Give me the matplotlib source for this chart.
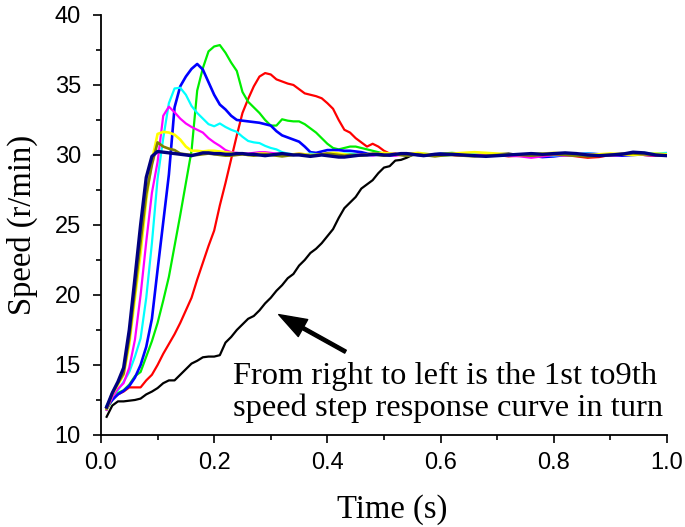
import numpy as np
import matplotlib
matplotlib.use("Agg")
import matplotlib.pyplot as plt
from matplotlib.ticker import MultipleLocator

# time grid: 0.01 s steps up to 0.6 s, then 0.02 s steps
time = np.round(np.concatenate([np.arange(0.01, 0.605, 0.01), np.arange(0.62, 1.005, 0.02)]), 2)

# speed curves, 1st (slowest) to 9th (fastest)
speed_1 = [11.3, 12.1, 12.4, 12.4, 12.45, 12.5, 12.6, 12.9, 13.1, 13.35,
           13.7, 13.9, 13.9, 14.3, 14.7, 15.1, 15.3, 15.55, 15.6, 15.6,
           15.7, 16.6, 17.0, 17.5, 17.9, 18.3, 18.5, 18.9, 19.4, 19.8,
           20.3, 20.7, 21.2, 21.5, 22.1, 22.5, 23.0, 23.3, 23.7, 24.2,
           24.7, 25.5, 26.2, 26.6, 27.0, 27.6, 27.9, 28.2, 28.7, 29.1,
           29.2, 29.6, 29.65, 29.8, 30.0, 30.0, 30.05, 30.0, 29.95, 30.0,
           30.05, 30.0, 29.95, 30.0, 30.05, 30.1, 30.0, 29.9, 29.95, 30.0,
           30.05, 30.0, 29.95, 30.0, 30.05, 30.1, 30.05, 30.0, 29.95, 30.0]
speed_2 = [11.9, 12.6, 12.9, 13.1, 13.4, 13.4, 13.4, 13.9, 14.3, 15.0,
           15.8, 16.5, 17.2, 18.0, 18.9, 19.8, 21.1, 22.3, 23.5, 24.6,
           26.4, 28.0, 29.7, 31.4, 33.0, 34.0, 34.9, 35.6, 35.85, 35.75,
           35.4, 35.25, 35.1, 35.0, 34.7, 34.4, 34.3, 34.2, 34.05, 33.7,
           33.3, 32.5, 31.8, 31.6, 31.2, 30.9, 30.6, 30.8, 30.6, 30.3,
           30.1, 30.1, 30.0, 29.95, 30.0, 30.05, 30.0, 29.95, 30.0, 30.05,
           30.0, 29.95, 30.0, 30.05, 30.0, 29.9, 29.95, 30.0, 30.05, 30.0,
           30.0, 29.9, 29.8, 29.85, 30.0, 30.05, 30.1, 30.0, 29.95, 30.0]
speed_3 = [11.8, 12.5, 13.0, 13.2, 13.6, 14.2, 14.5, 15.6, 16.7, 18.0,
           19.6, 21.3, 23.5, 25.7, 28.0, 30.3, 34.6, 36.2, 37.4, 37.75,
           37.85, 37.3, 36.6, 36.0, 34.5, 33.8, 33.4, 33.0, 32.5, 32.1,
           32.1, 32.55, 32.45, 32.4, 32.4, 32.2, 31.9, 31.6, 31.2, 30.8,
           30.5, 30.4, 30.5, 30.6, 30.6, 30.5, 30.4, 30.3, 30.2, 30.1,
           30.05, 30.0, 30.05, 30.1, 30.1, 30.05, 30.0, 30.0, 30.05, 30.1,
           30.15, 30.1, 30.05, 30.0, 30.0, 29.95, 30.0, 30.05, 30.1, 30.05,
           30.0, 29.95, 30.0, 30.05, 30.0, 30.0, 30.05, 30.1, 30.05, 30.0]
speed_4 = [12.0, 12.5, 12.9, 13.15, 13.5, 14.1, 15.0, 16.3, 18.3, 21.8,
           25.2, 28.6, 33.4, 34.9, 35.6, 36.15, 36.5, 36.1, 35.2, 34.3,
           33.6, 33.25, 32.8, 32.5, 32.45, 32.4, 32.35, 32.3, 32.2, 32.1,
           31.7, 31.4, 31.25, 31.1, 30.95, 30.6, 30.2, 30.15, 30.25, 30.35,
           30.35, 30.35, 30.3, 30.3, 30.25, 30.2, 30.1, 30.05, 30.0, 30.0,
           29.95, 30.0, 30.05, 30.1, 30.05, 30.0, 29.95, 30.0, 30.05, 30.1,
           30.05, 30.0, 30.0, 29.95, 30.0, 30.05, 30.0, 29.95, 29.85, 29.9,
           30.0, 30.05, 30.1, 30.05, 30.0, 29.95, 30.0, 30.05, 30.05, 30.0]
speed_5 = [12.1, 12.8, 13.2, 13.8, 14.5, 15.6, 16.9, 19.8, 23.7, 28.3,
           31.2, 33.7, 34.75, 34.8, 34.3, 33.5, 33.0, 32.6, 32.2, 32.05,
           32.25, 32.0, 31.8, 31.65, 31.3, 31.0, 30.9, 30.85, 30.65, 30.5,
           30.4, 30.2, 30.1, 30.05, 30.0, 30.05, 30.1, 30.05, 30.0, 29.95,
           30.0, 30.05, 30.1, 30.1, 30.05, 30.0, 30.0, 29.95, 30.0, 30.05,
           30.1, 30.05, 30.0, 29.95, 30.0, 30.05, 30.1, 30.05, 30.0, 29.95,
           30.0, 30.05, 30.1, 30.05, 30.0, 29.95, 30.0, 30.05, 30.0, 29.95,
           30.0, 30.05, 30.1, 30.05, 30.0, 30.05, 30.1, 30.15, 30.1, 30.15]
speed_6 = [11.8, 12.7, 13.3, 13.7, 14.8, 16.8, 20.0, 23.8, 27.3, 29.5,
           32.8, 33.45, 33.05, 32.6, 32.25, 32.0, 31.8, 31.6, 31.2, 30.9,
           30.65, 30.35, 30.2, 30.15, 30.1, 30.1, 30.15, 30.2, 30.2, 30.15,
           30.1, 30.05, 30.0, 30.05, 30.1, 30.05, 30.0, 30.0, 30.05, 30.1,
           30.1, 30.05, 30.0, 29.95, 30.0, 30.05, 30.0, 29.95, 30.0, 30.05,
           30.0, 29.95, 30.0, 30.05, 30.1, 30.05, 30.0, 29.95, 30.0, 30.05,
           30.0, 29.95, 30.0, 30.05, 30.0, 29.95, 29.9, 29.8, 29.9, 30.0,
           29.95, 30.0, 30.05, 30.0, 29.95, 30.0, 30.05, 30.0, 29.95, 30.0]
speed_7 = [11.9, 12.9, 13.6, 14.3, 16.5, 19.8, 23.0, 26.8, 29.6, 31.5,
           31.65, 31.6, 31.45, 31.1, 30.6, 30.3, 30.3, 30.25, 30.3, 30.3,
           30.25, 30.2, 30.15, 30.1, 30.05, 30.0, 30.05, 30.1, 30.1, 30.05,
           30.0, 29.95, 30.0, 30.05, 30.1, 30.05, 30.0, 30.0, 30.05, 30.1,
           30.15, 30.1, 30.05, 30.0, 29.95, 30.0, 30.05, 30.1, 30.1, 30.15,
           30.1, 30.05, 30.0, 30.05, 30.1, 30.15, 30.1, 30.05, 30.0, 30.05,
           30.1, 30.15, 30.2, 30.15, 30.1, 30.05, 30.0, 30.05, 30.1, 30.15,
           30.1, 30.05, 30.0, 30.05, 30.1, 30.05, 30.0, 30.05, 30.1, 30.05]
speed_8 = [11.9, 13.0, 13.7, 14.4, 16.9, 20.3, 23.8, 27.2, 29.3, 30.9,
           30.6, 30.45, 30.35, 30.1, 30.05, 30.0, 30.0, 30.05, 30.1, 30.05,
           30.0, 29.95, 29.95, 30.0, 30.05, 30.0, 29.95, 30.0, 30.05, 30.0,
           29.95, 29.9, 29.95, 30.0, 30.05, 30.0, 29.95, 30.0, 30.05, 30.1,
           30.05, 30.0, 29.95, 30.0, 30.0, 29.95, 30.0, 30.05, 30.0, 29.95,
           30.0, 30.05, 30.0, 29.95, 30.0, 30.05, 30.0, 29.95, 29.9, 29.95,
           30.0, 29.95, 29.9, 29.95, 30.0, 30.05, 30.0, 29.95, 30.0, 30.05,
           30.0, 29.95, 29.9, 29.95, 30.0, 30.05, 30.1, 30.05, 30.0, 29.95]
speed_9 = [12.0, 13.0, 13.8, 14.8, 17.5, 21.2, 25.0, 28.4, 29.9, 30.25,
           30.2, 30.15, 30.1, 30.05, 30.0, 29.95, 30.05, 30.15, 30.15, 30.1,
           30.1, 30.05, 30.05, 30.1, 30.1, 30.05, 30.05, 30.0, 29.95, 30.0,
           30.05, 30.1, 30.05, 30.0, 30.0, 29.95, 29.9, 29.95, 30.0, 29.95,
           29.9, 29.85, 29.85, 29.9, 29.95, 30.0, 30.0, 30.05, 30.05, 30.0,
           30.0, 30.05, 30.1, 30.1, 30.05, 30.0, 29.95, 30.0, 30.05, 30.05,
           30.05, 30.0, 29.95, 29.9, 29.95, 30.0, 30.05, 30.1, 30.05, 30.1,
           30.15, 30.1, 30.0, 29.95, 30.0, 30.05, 30.2, 30.15, 30.0, 29.95]

curves = [speed_1, speed_2, speed_3, speed_4, speed_5, speed_6, speed_7, speed_8, speed_9]
colors = ["black", "#ff0000", "#00ee00", "#0000ff", "#00ffff", "#ff00ff", "#ffff00", "#808000", "#000080"]
widths = [1.6, 1.6, 1.6, 1.9, 1.6, 1.6, 1.9, 1.9, 2.4]

sans = ["Liberation Sans", "DejaVu Sans"]
serif = ["Liberation Serif", "DejaVu Serif"]

fig = plt.figure(figsize=(6.85, 5.27), dpi=100)
ax = fig.add_axes([0.1474, 0.1746, 0.8263, 0.797])

for y, c, w in zip(curves, colors, widths):
    ax.plot(time, y, color=c, lw=w)

ax.set_xlim(0, 1.0)
ax.set_ylim(10, 40)
ax.xaxis.set_major_locator(MultipleLocator(0.2))
ax.xaxis.set_minor_locator(MultipleLocator(0.1))
ax.yaxis.set_major_locator(MultipleLocator(5))
ax.yaxis.set_minor_locator(MultipleLocator(2.5))
ax.xaxis.set_major_formatter(plt.FormatStrFormatter("%.1f"))

for s in ["top", "right"]:
    ax.spines[s].set_visible(False)
for s in ["left", "bottom"]:
    ax.spines[s].set_linewidth(1.3)

ax.tick_params(which="major", direction="out", length=6, width=1.2)
ax.tick_params(which="minor", direction="out", length=3.3, width=1.2)
ax.tick_params(axis="x", which="major", pad=6.5)
ax.tick_params(axis="y", which="major", pad=8.5)
for lab in ax.get_xticklabels() + ax.get_yticklabels():
    lab.set_family(sans)
    lab.set_fontsize(17)

ax.set_xlabel("Time (s)", family=serif, fontsize=23.5)
ax.xaxis.set_label_coords(0.515, -0.14)
ax.set_ylabel("Speed (r/min)", family=serif, fontsize=23.5, labelpad=12)

ax.text(0.234, 15.2, "From right to left is the 1st to9th\nspeed step response curve in turn",
        family=serif, fontsize=23.4, va="top", ha="left", linespacing=1.1)
ax.annotate("", xy=(0.314, 18.6), xytext=(0.432, 15.95),
            arrowprops=dict(facecolor="black", edgecolor="black", width=2.4,
                            headwidth=14, headlength=20, shrink=0))

fig.savefig("out.png", dpi=100)
